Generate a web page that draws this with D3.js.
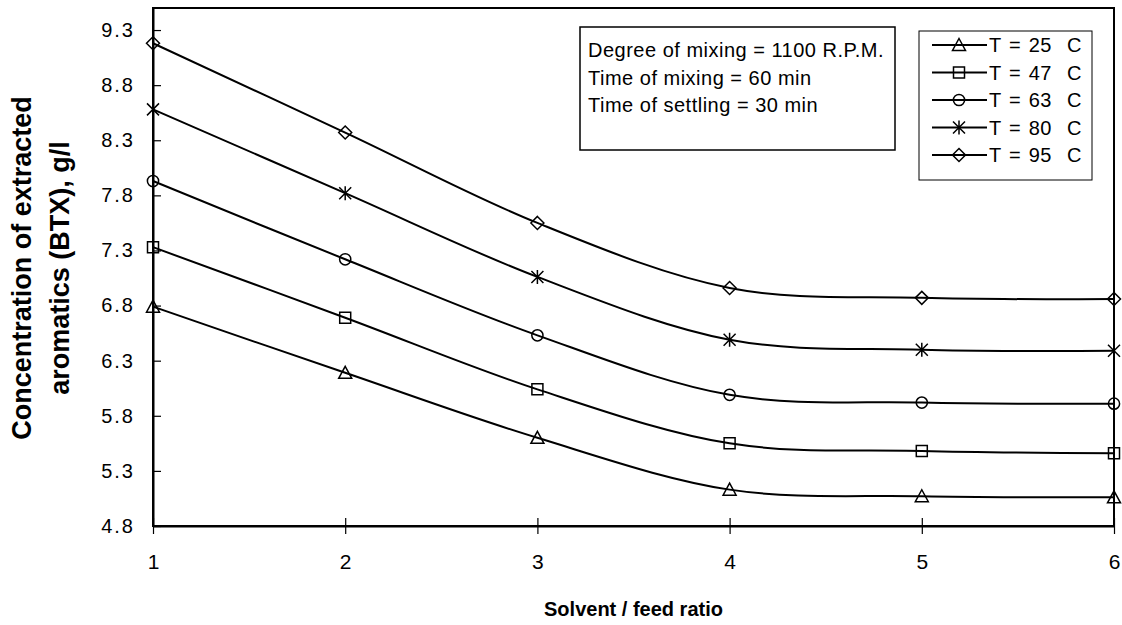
<!DOCTYPE html>
<html>
<head>
<meta charset="utf-8">
<script src="https://cdn.jsdelivr.net/npm/d3@7"></script>
<style>
  html, body { margin: 0; padding: 0; background: #fff; }
  svg { display: block; font-family: "Liberation Sans", Arial, sans-serif; }
</style>
</head>
<body>
<svg id="chart" width="1122" height="625"></svg>
<script>
// Solvent / feed ratio on the x axis
const ratios = [1, 2, 3, 4, 5, 6];

// Extracted BTX concentration (g/l) at each temperature
const t25 = [6.79, 6.19, 5.60, 5.13, 5.07, 5.06];
const t47 = [7.33, 6.69, 6.04, 5.55, 5.48, 5.46];
const t63 = [7.93, 7.22, 6.53, 5.99, 5.92, 5.91];
const t80 = [8.58, 7.82, 7.06, 6.49, 6.40, 6.39];
const t95 = [9.18, 8.37, 7.55, 6.96, 6.87, 6.86];

const seriesNames = ["T = 25  C", "T = 47  C", "T = 63  C", "T = 80  C", "T = 95  C"];
const seriesMarkers = ["triangle", "square", "circle", "asterisk", "diamond"];

const yTicks = [4.8, 5.3, 5.8, 6.3, 6.8, 7.3, 7.8, 8.3, 8.8, 9.3];
const xTicks = [1, 2, 3, 4, 5, 6];

const infoLines = [
  "Degree of mixing = 1100 R.P.M.",
  "Time of mixing = 60 min",
  "Time of settling = 30 min"
];

const series = [t25, t47, t63, t80, t95].map((vals, i) => ({
  name: seriesNames[i],
  marker: seriesMarkers[i],
  values: vals.map((v, j) => ({ x: ratios[j], y: v }))
}));

const svg = d3.select("#chart");
const plotLeft = 153, plotRight = 1114, plotTop = 8, plotBottom = 526;

const x = d3.scaleLinear().domain([1, 6]).range([plotLeft, plotRight]);
const y = d3.scaleLinear().domain([4.8, 9.5]).range([plotBottom, plotTop]);

// Marker shapes drawn as paths centred on (0,0)
function markerPath(type) {
  switch (type) {
    case "triangle": return "M0,-6.5L6.5,5.5L-6.5,5.5Z";
    case "square": return "M-5.5,-5.5H5.5V5.5H-5.5Z";
    case "circle": return d3.arc()({innerRadius: 0, outerRadius: 5.6, startAngle: 0, endAngle: 2 * Math.PI});
    case "asterisk": return "M0,-7V7M-6,-6L6,6M-6,6L6,-6";
    case "diamond": return "M0,-6.5L6.5,0L0,6.5L-6.5,0Z";
  }
}

// Plot frame
svg.append("rect")
  .attr("x", plotLeft).attr("y", plotTop)
  .attr("width", plotRight - plotLeft).attr("height", plotBottom - plotTop)
  .attr("fill", "none").attr("stroke", "#000").attr("stroke-width", 2);

// Y axis with ticks crossing the axis line
const yAxis = svg.append("g").attr("transform", `translate(${plotLeft},0)`)
  .call(d3.axisLeft(y).tickValues(yTicks).tickFormat(d3.format(".1f"))
    .tickSizeInner(8).tickSizeOuter(0).tickPadding(10));
yAxis.select(".domain").attr("stroke-width", 2);
yAxis.selectAll(".tick line").attr("x2", 8).attr("stroke-width", 1.2);
yAxis.selectAll(".tick text").attr("font-size", 20).attr("letter-spacing", 2)
  .attr("font-family", "Liberation Sans, Arial, sans-serif").attr("fill", "#000");

// X axis with ticks crossing the axis line
const xAxis = svg.append("g").attr("transform", `translate(0,${plotBottom})`)
  .call(d3.axisBottom(x).tickValues(xTicks).tickFormat(d3.format("d"))
    .tickSizeInner(8).tickSizeOuter(0).tickPadding(20));
xAxis.select(".domain").attr("stroke-width", 2);
xAxis.selectAll(".tick line").attr("y2", 8).attr("y1", -8).attr("stroke-width", 1.2);
xAxis.selectAll(".tick text").attr("font-size", 21)
  .attr("font-family", "Liberation Sans, Arial, sans-serif").attr("fill", "#000");

// Smoothed series lines
const line = d3.line()
  .x(d => x(d.x)).y(d => y(d.y))
  .curve(d3.curveCatmullRom.alpha(0));

const g = svg.append("g");
series.forEach(s => {
  g.append("path")
    .attr("d", line(s.values))
    .attr("fill", "none").attr("stroke", "#000").attr("stroke-width", 2);
  g.selectAll(null).data(s.values).enter().append("path")
    .attr("transform", d => `translate(${x(d.x)},${y(d.y)})`)
    .attr("d", markerPath(s.marker))
    .attr("fill", "none").attr("stroke", "#000").attr("stroke-width", 1.5);
});

// Axis titles
svg.append("text")
  .attr("x", (plotLeft + plotRight) / 2).attr("y", 616)
  .attr("text-anchor", "middle")
  .attr("font-size", 20).attr("font-weight", "bold")
  .text("Solvent / feed ratio");

const yTitle = svg.append("text")
  .attr("transform", "translate(0,268) rotate(-90)")
  .attr("text-anchor", "middle")
  .attr("font-size", 27).attr("font-weight", "bold");
yTitle.append("tspan").attr("x", 0).attr("y", 31).text("Concentration of extracted");
yTitle.append("tspan").attr("x", 0).attr("y", 69).text("aromatics (BTX), g/l");

// Conditions box
svg.append("rect")
  .attr("x", 580).attr("y", 27).attr("width", 315).attr("height", 123)
  .attr("fill", "#fff").attr("stroke", "#000").attr("stroke-width", 1.5);
svg.append("g").selectAll("text").data(infoLines).enter().append("text")
  .attr("x", 588).attr("y", (d, i) => 57 + i * 27.5)
  .attr("font-size", 20)
  .attr("letter-spacing", 0.5)
  .text(d => d);

// Legend
svg.append("rect")
  .attr("x", 919).attr("y", 31).attr("width", 173).attr("height", 149)
  .attr("fill", "#fff").attr("stroke", "#000").attr("stroke-width", 1);
const leg = svg.append("g").selectAll("g").data(series).enter().append("g")
  .attr("transform", (d, i) => `translate(0,${45 + i * 27.5})`);
leg.append("line").attr("x1", 932).attr("x2", 987)
  .attr("stroke", "#000").attr("stroke-width", 2);
leg.append("path")
  .attr("transform", "translate(959,0)")
  .attr("d", d => markerPath(d.marker))
  .attr("fill", "none").attr("stroke", "#000").attr("stroke-width", 1.5);
leg.append("text")
  .attr("x", 989).attr("y", 7)
  .attr("font-size", 20)
  .attr("letter-spacing", 0.5)
  .attr("word-spacing", 1.5)
  .attr("xml:space", "preserve")
  .style("white-space", "pre")
  .text(d => d.name);
</script>
</body>
</html>
